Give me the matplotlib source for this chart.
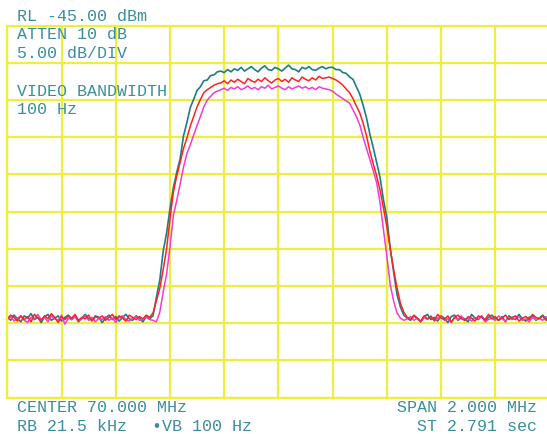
import numpy as np
import matplotlib.pyplot as plt

# sweep: 161 points across the 2 MHz span (69..71 MHz)
freq = np.linspace(69.0, 71.0, 161)

trace_teal = [
    -84.1, -84.6, -83.9, -84.4, -84.8, -84.0, -84.3, -83.7, -84.5, -84.2,
    -84.9, -84.1, -83.8, -84.6, -84.3, -84.0, -84.7, -84.2, -83.9, -84.5,
    -84.1, -84.8, -84.3, -83.8, -84.4, -84.6, -84.0, -84.2, -84.9, -84.3,
    -83.9, -84.5, -84.1, -84.7, -84.2, -83.8, -84.4, -84.6, -84.0, -84.3,
    -84.8, -84.1, -84.4,
    -84.0, -81.5, -79.2, -75.3, -72.9, -69.6, -66.8, -64.7, -62.9, -59.8,
    -58.0, -56.0, -54.9, -53.7, -53.2, -52.4, -52.3, -51.7, -51.6, -51.2,
    -51.1, -51.3, -50.9, -51.2, -50.8, -51.0, -50.6, -51.1, -50.8, -50.5,
    -50.9, -51.2, -50.7, -50.4, -50.9, -51.0, -50.6, -50.8, -51.1, -50.7,
    -50.3, -50.8, -50.9, -51.2, -50.6, -50.8, -50.5, -50.9, -51.0, -50.7,
    -50.5, -50.8, -50.6,
    -50.6, -50.9, -50.9, -51.3, -51.4, -51.9, -52.2, -53.2, -54.2, -55.7,
    -57.4, -59.6, -61.4, -63.4, -65.4, -68.4, -70.8, -74.9, -78.1, -81.1,
    -82.8, -83.9,
    -84.3, -84.6, -84.0, -84.4, -84.8, -84.1, -83.8, -84.5, -84.2, -84.7,
    -84.0, -84.3, -84.9, -84.1, -83.9, -84.6, -84.2, -84.4, -84.8, -83.8,
    -84.3, -84.5, -84.0, -84.7, -84.2, -83.9, -84.4, -84.6, -84.1, -84.8,
    -84.0, -84.3, -84.5, -83.8, -84.4, -84.7, -84.2, -84.0, -84.6, -84.3,
    -83.9, -84.5, -84.1,
]

trace_red = [
    -84.4, -83.9, -84.2, -84.7, -84.0, -84.5, -84.1, -84.8, -83.8, -84.3,
    -84.6, -84.0, -84.4, -83.7, -84.2, -84.9, -84.1, -84.5, -84.0, -84.3,
    -83.8, -84.6, -84.2, -84.4, -83.9, -84.7, -84.1, -84.3, -84.0, -84.6,
    -84.2, -83.8, -84.5, -84.0, -84.3, -84.7, -83.9, -84.2, -84.5, -84.1,
    -84.4, -83.9, -84.2,
    -83.6, -82.0, -80.3, -77.8, -75.0, -71.0, -67.4, -65.2, -63.4, -61.5,
    -60.1, -58.5, -57.2, -55.9, -54.9, -54.0, -53.6, -53.3, -53.0, -52.8,
    -52.7, -52.4, -52.8, -52.3, -52.6, -52.2, -52.5, -52.8, -52.1, -52.4,
    -52.6, -52.2, -52.5, -52.0, -52.4, -52.7, -52.3, -52.1, -52.5, -52.2,
    -52.6, -52.0, -52.3, -52.5, -51.9, -52.2, -52.4, -52.0, -52.3, -51.8,
    -52.1, -52.0, -51.9,
    -52.1, -52.3, -52.6, -53.0, -53.5, -54.0, -54.8, -55.8, -56.7, -58.1,
    -59.8, -61.9, -63.6, -65.2, -67.1, -69.5, -72.0, -75.0, -77.8, -80.2,
    -82.3, -83.5,
    -84.2, -84.5, -83.9, -84.3, -84.7, -84.0, -84.4, -84.1, -84.6, -83.8,
    -84.3, -84.5, -84.0, -84.8, -84.2, -83.9, -84.4, -84.6, -84.1, -84.3,
    -84.7, -84.0, -84.2, -84.5, -83.8, -84.4, -84.1, -84.6, -84.3, -83.9,
    -84.5, -84.2, -84.0, -84.7, -84.3, -84.1, -84.5, -83.8, -84.2, -84.4,
    -84.0, -84.6, -84.2,
]

trace_magenta = [
    -84.5, -84.1, -84.7, -84.3, -84.0, -84.6, -84.9, -84.2, -84.4, -83.8,
    -84.5, -84.2, -84.8, -84.0, -84.4, -84.6, -83.9, -85.1, -84.3, -84.5,
    -84.1, -84.7, -84.4, -84.0, -84.6, -84.2, -84.8, -84.3, -84.5, -84.1,
    -84.6, -84.3, -84.9, -84.2, -84.0, -84.5, -84.7, -84.3, -84.1, -84.6,
    -84.4, -84.2, -84.5,
    -84.6, -84.8, -83.5, -80.8, -78.4, -74.8, -70.5, -68.5, -66.3, -64.0,
    -62.2, -61.0, -59.7, -58.4, -57.2, -55.9, -55.0, -54.5, -54.0, -53.8,
    -53.6, -53.4, -53.7, -53.3, -53.5, -53.2, -53.6, -53.4, -53.1, -53.5,
    -53.3, -53.6, -53.2, -53.4, -53.0, -53.5, -53.3, -53.1, -53.4, -53.6,
    -53.2, -53.5, -53.3, -53.1, -53.4, -53.2, -53.5, -53.3, -53.6, -53.2,
    -53.4, -53.5, -53.6,
    -53.8, -54.2, -54.5, -54.8, -55.1, -55.4, -56.3, -57.2, -58.3, -60.0,
    -61.5, -63.0, -64.5, -66.1, -68.8, -72.4, -76.0, -79.8, -82.0, -83.6,
    -84.3, -84.6,
    -84.4, -84.1, -84.6, -84.3, -84.8, -84.2, -84.5, -84.0, -84.7, -84.3,
    -84.1, -84.6, -84.4, -84.9, -84.2, -84.5, -84.0, -84.6, -84.3, -84.7,
    -84.2, -84.4, -84.1, -84.8, -84.5, -84.3, -84.6, -84.0, -84.4, -84.7,
    -84.2, -84.5, -84.3, -84.1, -84.6, -84.4, -84.8, -84.2, -84.5, -84.3,
    -84.6, -84.1, -84.4,
]

ref_level = -45.0   # dBm
db_per_div = 5.0
top_text = ['RL -45.00 dBm', 'ATTEN 10 dB', '5.00 dB/DIV', 'VIDEO BANDWIDTH', '100 Hz']
bottom_left = ['CENTER 70.000 MHz', 'RB 21.5 kHz']
bottom_mid = '\u2022VB 100 Hz'
bottom_right = ['SPAN 2.000 MHz', 'ST 2.791 sec']

W, H = 547, 434
txt_col = '#3a8e9c'
grid_col = '#eeee3c'

plt.rcParams['font.family'] = ['Liberation Mono', 'DejaVu Sans Mono']
fig = plt.figure(figsize=(W / 100, H / 100), dpi=100)
fig.patch.set_facecolor('white')

# graticule: left 7.3px, top 25.7px, 54.2px x 37.2px per division
ax = fig.add_axes([7.3 / W, 1 - 397.7 / H, 542.2 / W, 372.0 / H])
ax.set_xlim(69.0, 71.0)
ax.set_ylim(ref_level - 10 * db_per_div, ref_level)
ax.set_xticks(np.linspace(69.0, 71.0, 11))
ax.set_yticks(np.linspace(ref_level - 10 * db_per_div, ref_level, 11))
ax.tick_params(length=0, labelbottom=False, labelleft=False)
ax.grid(True, color=grid_col, linewidth=1.6)
for s in ax.spines.values():
    s.set_color(grid_col)
    s.set_linewidth(1.6)

ax.plot(freq, trace_teal, color='#1e7c86', linewidth=1.2)
ax.plot(freq, trace_magenta, color='#f23cd2', linewidth=1.1)
ax.plot(freq, trace_red, color='#ff2222', linewidth=1.1)

fs = 12
ys = [21, 39, 58, 96, 114]
for t, y in zip(top_text, ys):
    fig.text(17 / W, 1 - y / H, t, color=txt_col, fontsize=fs, va='baseline')

fig.text(17 / W, 1 - 412 / H, bottom_left[0], color=txt_col, fontsize=fs, va='baseline')
fig.text(17 / W, 1 - 431 / H, bottom_left[1], color=txt_col, fontsize=fs, va='baseline')
fig.text(152 / W, 1 - 431 / H, bottom_mid, color=txt_col, fontsize=fs, va='baseline',
         family=['Liberation Mono', 'DejaVu Sans Mono'])
fig.text(537 / W, 1 - 412 / H, bottom_right[0], color=txt_col, fontsize=fs, va='baseline', ha='right')
fig.text(537 / W, 1 - 431 / H, bottom_right[1], color=txt_col, fontsize=fs, va='baseline', ha='right')

fig.savefig('out.png', dpi=100, facecolor='white')
